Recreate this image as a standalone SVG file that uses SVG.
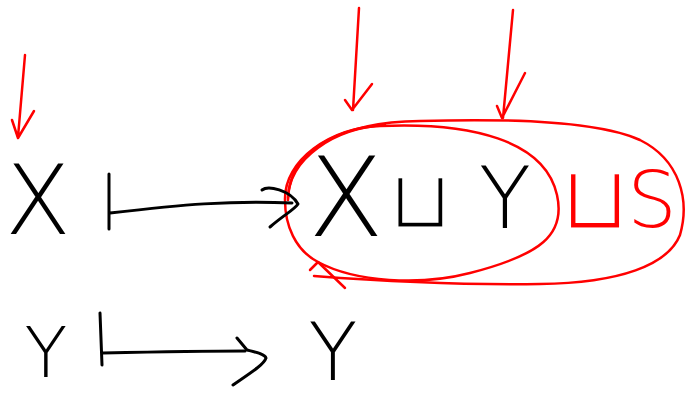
<svg xmlns="http://www.w3.org/2000/svg" width="686" height="398" viewBox="0 0 686 398">
<style>
.ink{fill:none;stroke:#000;stroke-width:3;stroke-linecap:round;stroke-linejoin:round}
.red{fill:none;stroke:#f00;stroke-width:2.5;stroke-linecap:round;stroke-linejoin:round}
.t{font-family:"DejaVu Sans","Liberation Sans",sans-serif;font-weight:200;text-anchor:middle}
.u{font-family:"DejaVu Sans",sans-serif;font-weight:normal;text-anchor:middle;stroke:#fff;stroke-width:3}
.tb{fill:#000}
.tr{fill:#f00}
</style>
<rect width="686" height="398" fill="#fff"/>
<g id="sets">
<path class="red" d="M285,200 C284,160 330,128 380,126 C470,122 545,140 557,195 C566,235 540,255 470,273 C420,286 355,282 318,262 C295,250 285,225 285,200 Z"/>
<path class="red" d="M288,198 C290,150 340,122 420,121 C520,118 600,122 640,140 C680,160 690,200 680,235 C668,265 620,283 540,284 C470,285 380,281 314,276"/>
<path class="red" d="M288,200 C288,158 335,128 385,125"/>
<path class="red" d="M310,270 L318,262 L345,288"/>
</g>
<g id="node-x"><text class="t tb" x="38" y="234" font-size="96">X</text></g>
<g id="node-y"><text class="t tb" x="46" y="377" font-size="70">Y</text></g>
<g id="node-xuy">
<text class="t tb" x="346" y="236" font-size="110">X</text>
<text class="u tb" x="420" y="228" font-size="82">⊔</text>
<text class="t tb" x="505" y="228" font-size="85">Y</text>
</g>
<g id="node-us">
<text class="u tr" x="595" y="229" font-size="90">⊔</text>
<text class="t tr" x="652" y="227" font-size="78">S</text>
</g>
<g id="node-y2"><text class="t tb" x="333" y="380" font-size="80">Y</text></g>
<g id="connectors">
<path class="ink" d="M109,174 L109,229 M110,213 C180,205 230,200 292,203"/>
<path class="ink" d="M262,190 C268,185 290,190 298,204 C294,210 285,214 270,227"/>
<path class="ink" d="M100,313 L102,365 M103,353 C150,352 200,351 245,351"/>
<path class="ink" d="M237,338 L247,350 C255,352 265,354 266,358 C264,364 255,370 233,385"/>
<path class="red" d="M25,55 L18,137 M12,120 L18,138 L34,111"/>
<path class="red" d="M359,8 L353,110 M345,100 L352,110 L372,84"/>
<path class="red" d="M513,10 L503,118 M497,106 L502,118 L525,73"/>
</g>
</svg>
